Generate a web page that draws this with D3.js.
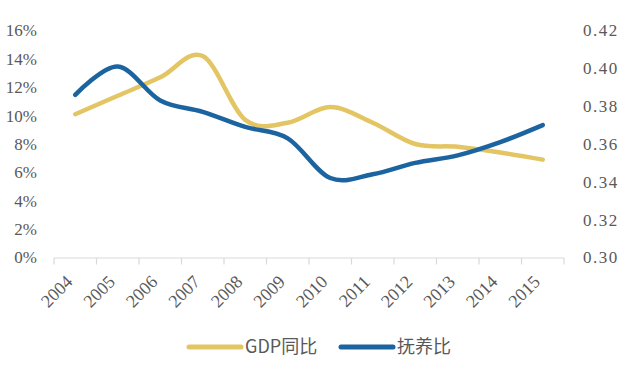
<!DOCTYPE html>
<html>
<head>
<meta charset="utf-8">
<script src="https://cdn.jsdelivr.net/npm/d3@7"></script>
<style>
  body { margin: 0; background: #fff; }
  svg { display: block; }
  .serif, .serif text { font-family: "Liberation Serif", "Times New Roman", "DejaVu Serif", serif !important; }
</style>
</head>
<body>
<svg id="chart" width="631" height="370"></svg>
<script>
// data
const years = ["2004", "2005", "2006", "2007", "2008", "2009", "2010", "2011", "2012", "2013", "2014", "2015"];
const gdpYoY = [10.1, 11.4, 12.7, 14.2, 9.7, 9.5, 10.6, 9.5, 8.0, 7.8, 7.4, 6.9];
const dependency = [0.386, 0.401, 0.383, 0.377, 0.369, 0.363, 0.342, 0.344, 0.350, 0.354, 0.361, 0.370];
const leftTicks = [0, 2, 4, 6, 8, 10, 12, 14, 16];
const rightTicks = [0.30, 0.32, 0.34, 0.36, 0.38, 0.40, 0.42];
const seriesNames = ["GDP同比", "抚养比"];

const yellow = "#E4C564";
const blue = "#1C64A0";
const textColor = "#595959";

const svg = d3.select("#chart");

// plot area
const plotLeft = 54, plotRight = 564, plotTop = 30.5, plotBottom = 257.5;

const x = d3.scaleBand().domain(years).range([plotLeft, plotRight]);
const yL = d3.scaleLinear().domain([0, 16]).range([plotBottom, plotTop]);
const yR = d3.scaleLinear().domain([0.30, 0.42]).range([plotBottom, plotTop]);

// left axis labels
svg.append("g")
  .attr("class", "serif")
  .attr("transform", "translate(" + (plotLeft - 14) + ",0)")
  .call(d3.axisLeft(yL).tickValues(leftTicks).tickSize(0).tickFormat(d => d + "%"))
  .call(g => g.select(".domain").remove())
  .attr("font-size", 17)
  .selectAll("text")
  .attr("fill", textColor);

// right axis labels
svg.append("g")
  .attr("class", "serif")
  .attr("transform", "translate(" + (plotRight + 16) + ",0)")
  .call(d3.axisRight(yR).tickValues(rightTicks).tickSize(0).tickFormat(d3.format(".2f")))
  .call(g => g.select(".domain").remove())
  .attr("font-size", 17)
  .selectAll("text")
  .attr("fill", textColor)
  .attr("letter-spacing", "1.5px");

// x axis line + ticks on the band edges
const xg = svg.append("g");
xg.append("line")
  .attr("x1", plotLeft).attr("x2", plotRight)
  .attr("y1", plotBottom + 0.5).attr("y2", plotBottom + 0.5)
  .attr("stroke", "#d9d9d9").attr("stroke-width", 1.2);
const edges = years.map(d => x(d)).concat([x.range()[1]]);
xg.selectAll(".tick-edge")
  .data(edges)
  .join("line")
  .attr("class", "tick-edge")
  .attr("x1", d => d).attr("x2", d => d)
  .attr("y1", plotBottom + 0.5).attr("y2", plotBottom + 7)
  .attr("stroke", "#d9d9d9").attr("stroke-width", 1.2);

// rotated year labels
svg.append("g")
  .attr("class", "serif")
  .attr("font-size", 18)
  .selectAll("text")
  .data(years)
  .join("text")
  .attr("transform", d => "translate(" + (x(d) + x.bandwidth() / 2 - 6) + "," + (plotBottom + 21) + ") rotate(-45)")
  .attr("text-anchor", "end")
  .attr("dy", "0.35em")
  .attr("fill", textColor)
  .text(d => d);

// smoothed lines, like excel
const cx = (d, i) => x(years[i]) + x.bandwidth() / 2;
const gdpLine = d3.line().x(cx).y(d => yL(d)).curve(d3.curveCatmullRom.alpha(0));
const depLine = d3.line().x(cx).y(d => yR(d)).curve(d3.curveCatmullRom.alpha(0));

svg.append("path")
  .datum(gdpYoY)
  .attr("fill", "none")
  .attr("stroke", yellow)
  .attr("stroke-width", 4.5)
  .attr("stroke-linecap", "round")
  .attr("d", gdpLine);

svg.append("path")
  .datum(dependency)
  .attr("fill", "none")
  .attr("stroke", blue)
  .attr("stroke-width", 4.5)
  .attr("stroke-linecap", "round")
  .attr("d", depLine);

// legend
const legend = svg.append("g").attr("transform", "translate(0,347)");
const items = [
  { name: seriesNames[0], color: yellow, x: 189 },
  { name: seriesNames[1], color: blue, x: 341 }
];
items.forEach(it => {
  legend.append("line")
    .attr("x1", it.x).attr("x2", it.x + 52)
    .attr("y1", 0).attr("y2", 0)
    .attr("stroke", it.color)
    .attr("stroke-width", 5)
    .attr("stroke-linecap", "round");
  legend.append("text")
    .attr("x", it.x + 56)
    .attr("y", 0)
    .attr("dy", "0.35em")
    .attr("fill", textColor)
    .attr("font-family", "Noto Sans CJK SC, sans-serif")
    .attr("font-size", 18)
    .text(it.name);
});
</script>
</body>
</html>
